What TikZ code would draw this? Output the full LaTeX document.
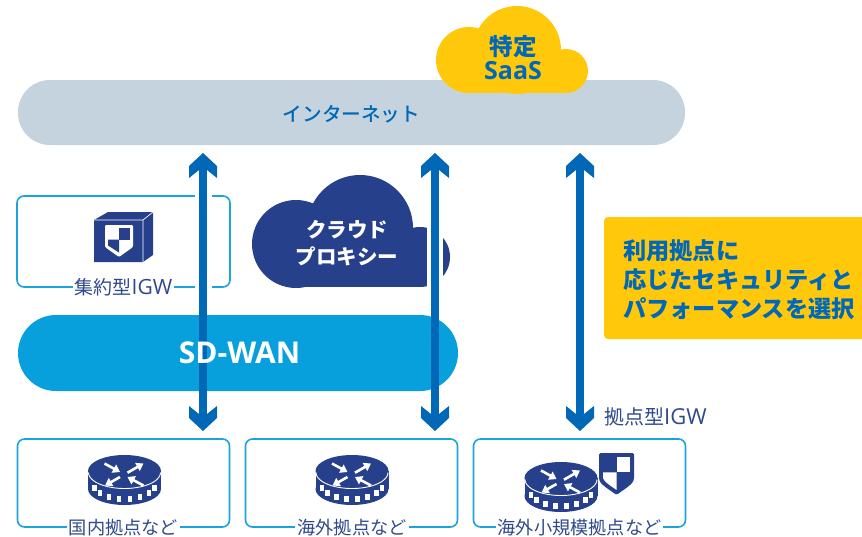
\documentclass[tikz,border=0pt]{standalone}
\usepackage{fontspec}
\usetikzlibrary{arrows.meta}
\setmainfont{Noto Sans CJK JP}
\newfontfamily\medfam{Noto Sans CJK JP Medium}
\newfontfamily\latinfam{Open Sans}
\newfontfamily\igwfam{Open Sans}
\newcommand{\igwtext}{{\igwfam\fontsize{21}{21}\selectfont IGW}}
\definecolor{navy}{HTML}{27408B}
\definecolor{lblue}{HTML}{2F4A8C}
\definecolor{arrowblue}{HTML}{0068B7}
\definecolor{wanblue}{HTML}{08A0DC}
\definecolor{netgrey}{HTML}{C5D3DF}
\definecolor{sun}{HTML}{FFC80B}
\definecolor{linecyan}{HTML}{1BA3DC}
\pgfdeclarearrow{
  name=Barb,
  setup code={\pgfarrowssettipend{0pt}\pgfarrowssetbackend{-25pt}\pgfarrowssetlineend{-14pt}\pgfarrowssetvisualbackend{-14pt}},
  drawing code={
    \pgfpathmoveto{\pgfqpoint{0pt}{0pt}}
    \pgfpathlineto{\pgfqpoint{-13pt}{14pt}}
    \pgfpathlineto{\pgfqpoint{-25pt}{14pt}}
    \pgfpathlineto{\pgfqpoint{-17pt}{4pt}}
    \pgfpathlineto{\pgfqpoint{-17pt}{-4pt}}
    \pgfpathlineto{\pgfqpoint{-25pt}{-14pt}}
    \pgfpathlineto{\pgfqpoint{-13pt}{-14pt}}
    \pgfpathclose
    \pgfusepathqfill
  }
}
\tikzset{
  x=1pt,y=-1pt,
  sitebox/.style={draw=linecyan,line width=1.6pt,rounded corners=7pt,fill=none,inner sep=0pt,minimum height=88pt,minimum width=212pt},
  sitelabel/.style={fill=white,text=lblue,font=\fontsize{18.2}{20}\selectfont,inner sep=2pt,anchor=center},
  band/.style={rounded corners=32pt,inner sep=0pt},
  link/.style={draw=arrowblue,line width=8pt,{Barb}-{Barb}},
  routerarrow/.style={white,line width=2.6pt,-{Triangle[length=7pt,width=9pt]}},
  pics/routerpic/.style={code={
    \fill[navy] (-36.5,0) rectangle (36.5,18);
    \fill[navy] (0,18) ellipse [x radius=36.5,y radius=16];
    \fill[navy] (0,0) ellipse [x radius=36.5,y radius=16];
    \draw[white,line width=0.9pt] plot[domain=0:180,samples=30] ({36*cos(\x)},{1.5+16*sin(\x)});
    \foreach \t in {15,38,60,80,100,120,142,165}
      \fill[white] ({31*cos(\t)-2.3},{13+15*sin(\t)-3}) rectangle ++(4.6,6);
    \draw[routerarrow] (-20,-7.5) -- (-4.5,1);
    \draw[routerarrow] (3,1.7) -- (19,-7.5);
    \draw[routerarrow] (-4.5,6) -- (-19.5,14.5);
    \draw[routerarrow] (19,14.5) -- (3,6);
  }},
  pics/shieldpic/.style={code={
    \fill[navy,rounded corners=1.5pt] (0,0) -- (35,0) -- (35,26) .. controls (33,32) and (24,37) .. (17.5,42) .. controls (11,37) and (2,32) .. (0,26) -- cycle;
    \fill[white] (17.7,4) rectangle (31,19.3);
    \fill[white] (4,19.3) -- (17.7,19.3) -- (17.7,37) .. controls (12,33) and (5,29) .. (4,25) -- cycle;
  }},
}
\begin{document}
\begin{tikzpicture}
\useasboundingbox (0,0) rectangle (862,536);
% internet band
\node[band,fill=netgrey,minimum width=667pt,minimum height=65pt,inner sep=0pt] (net) at (351.5,112.5) {};
\node[text=arrowblue,font=\medfam\fontsize{19.6}{22}\selectfont,inner sep=0pt] (netl) at (351.5,114) {インターネット};
% saas cloud
\fill[sun] (469,60) circle (33);
\fill[sun] (517,50) circle (44);
\fill[sun] (566,71) circle (22);
\fill[sun] (469,60) rectangle (566,93);
\node[text=arrowblue,font=\fontsize{23.5}{25}\selectfont\bfseries,inner sep=0pt] (saas1) at (513,47) {特定};
\node[text=arrowblue,font=\latinfam\fontsize{25}{28}\selectfont\bfseries,inner sep=0pt] (saas2) at (513,71) {SaaS};
% central igw box
\node[sitebox,minimum width=213pt,minimum height=91pt] (igw) at (123.5,241.5) {};
\node[sitelabel,font=\fontsize{19}{21}\selectfont] (igwl) at (123.5,287.5) {集約型\igwtext};
% cube icon
\fill[navy] (94,220) -- (108,212) -- (153,212) -- (153,255) -- (143,262) -- (94,262) -- cycle;
\draw[white,line width=0.7pt] (94,220) -- (143,220) -- (153,212) (143,220) -- (143,262);
\fill[white,rounded corners=1pt] (105,225) -- (133,225) -- (133,247) -- (119,257) -- (105,247) -- cycle;
\fill[navy] (119,228) rectangle (129.5,239.5);
\fill[navy] (108,239.5) -- (119,239.5) -- (119,252.5) -- (108,245.5) -- cycle;
% proxy cloud
\fill[navy] (296,244) circle (44);
\fill[navy] (360,228) circle (53);
\fill[navy] (420,257) circle (30);
\fill[navy] (296,245) rectangle (420,287);
\node[text=white,font=\fontsize{20.5}{23}\selectfont\bfseries,inner sep=0pt] (proxy1) at (347,230) {クラウド};
\node[text=white,font=\fontsize{20.5}{23}\selectfont\bfseries,inner sep=0pt] (proxy2) at (347,256) {プロキシー};
% gaps behind the arrows
\fill[white] (195,190) rectangle (212,295);
\fill[white] (427,170) rectangle (443,300);
% wan band
\node[band,fill=wanblue,rounded corners=38pt,minimum width=440pt,minimum height=76pt] (wan) at (238,353) {};
% site boxes
\node[sitebox] (s1) at (123.5,483) {};
\node[sitebox] (s2) at (351.5,483) {};
\node[sitebox] (s3) at (579.5,483) {};
\pic at (124.5,471) {routerpic};
\pic at (352,471) {routerpic};
\pic at (561,478) {routerpic};
\pic at (599,453) {shieldpic};
\node[sitelabel] (s1l) at (123.5,528) {国内拠点など};
\node[sitelabel] (s2l) at (352,528) {海外拠点など};
\node[sitelabel] (s3l) at (579.5,528) {海外小規模拠点など};
% arrows
\coordinate (a1t) at (203,153); \coordinate (a1b) at (203,431);
\coordinate (a2t) at (435,153); \coordinate (a2b) at (435,431);
\coordinate (a3t) at (580,153); \coordinate (a3b) at (580,431);
\draw[link] (a1t) -- (a1b);
\draw[link] (a2t) -- (a2b);
\draw[link] (a3t) -- (a3b);
\node[text=white,font=\latinfam\fontsize{30}{33}\selectfont\bfseries,inner sep=0pt] (wanl) at (239.5,353) {SD-WAN};
\node[text=lblue,font=\fontsize{20}{22}\selectfont,anchor=west,inner sep=0pt] (locigw) at (604,417) {拠点型{\igwfam\fontsize{22}{22}\selectfont IGW}};
% callout
\path[fill=sun,rounded corners=4pt] (862,217) -- (604,217) -- (604,339) -- (862,339);
\node[text=arrowblue,font=\fontsize{23.2}{29}\selectfont\bfseries,anchor=west,align=left,inner sep=0pt] (note) at (623,280) {利用拠点に\\応じたセキュリティと\\パフォーマンスを選択};
\end{tikzpicture}
\end{document}
